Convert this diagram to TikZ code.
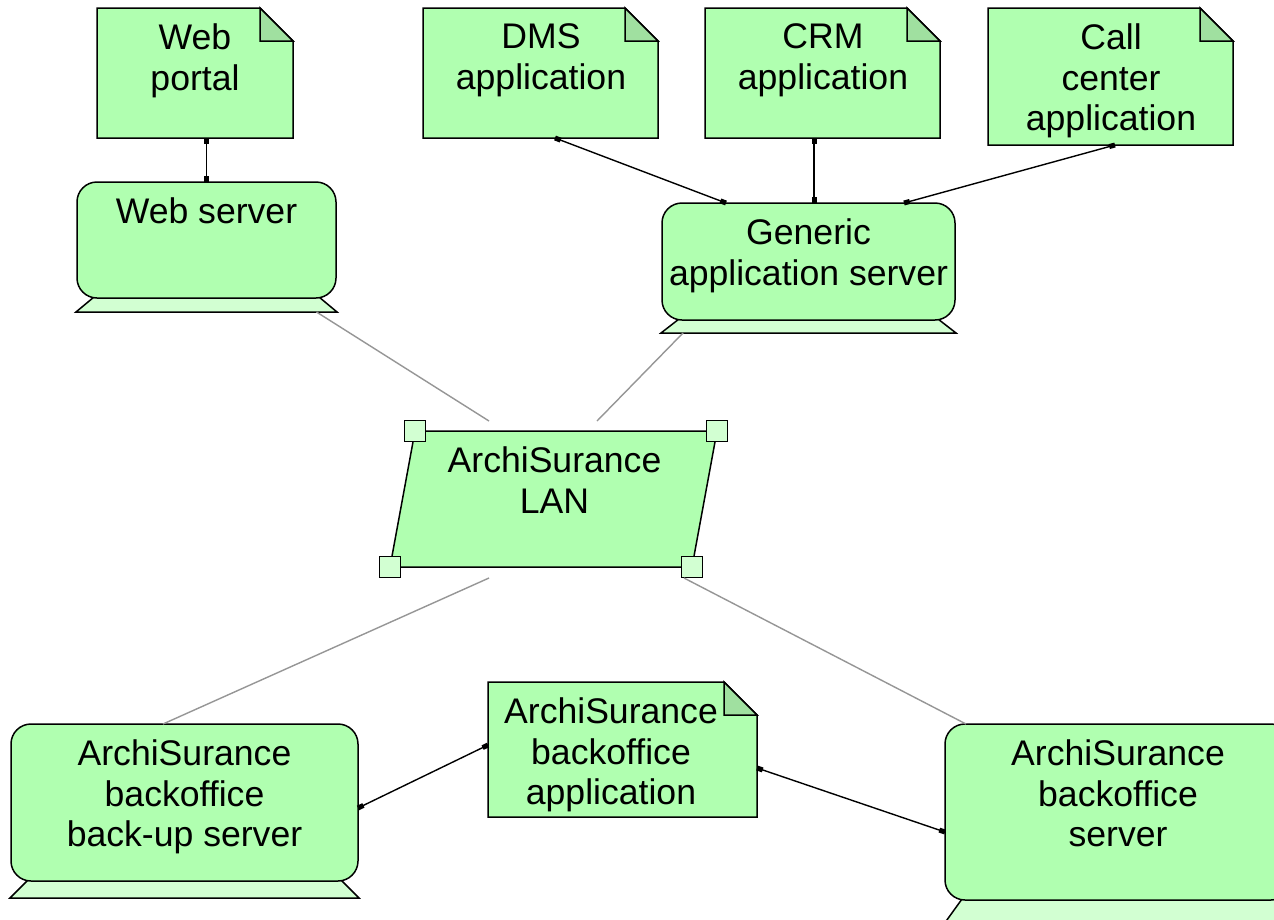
\documentclass[tikz,border=0pt]{standalone}
\usepackage{fontspec}
\setmainfont{Liberation Sans}
\usetikzlibrary{arrows.meta, calc, positioning}

\definecolor{archigreen}{RGB}{176,255,176}
\definecolor{archifold}{RGB}{160,224,160}
\definecolor{archibase}{RGB}{210,255,210}
\definecolor{netgray}{RGB}{150,150,150}

\begin{document}
\begin{tikzpicture}[x=1pt, y=-1pt, line width=1.5pt,
    holder/.style={shape=rectangle, inner sep=0pt, outer sep=0pt},
    device/.style={holder, draw, fill=archigreen, rounded corners=20pt},
    txt/.style={font=\fontsize{35.6}{40.5}\selectfont, align=center, inner sep=0pt, anchor=north},
    sq/.tip={Square[length=6pt, width=5pt]},
    assign/.style={sq-sq, line width=1.4pt},
    network/.style={netgray, line width=1.4pt}]
            \clip (0,0) rectangle (1274,919);
            \fill[white] (0,0) rectangle (1274,919);
            %Artifacts
            \foreach \nm/\xa/\ya/\xb/\yb/\tx/\txt in {portal/97/8/293/138/195/{Web\\portal},
                dms/423/8/658/138/541/{DMS\\application},
                crm/705/8/940/138/823/{CRM\\application},
                call/988/8/1233/145/1111/{Call\\center\\application},
                boapp/488/682/757/817/611/{ArchiSurance\\backoffice\\application}}
            {
                \node[holder, minimum width={\xb-\xa}, minimum height={\yb-\ya}] (\nm) at ({(\xa+\xb)/2}, {(\ya+\yb)/2}) {};
                \filldraw[fill=archigreen] (\xa,\yb) -- (\xa,\ya) -- (\xb-33,\ya) -- (\xb,\ya+33) -- (\xb,\yb) -- cycle;
                \filldraw[fill=archifold] (\xb-33,\ya) -- (\xb-33,\ya+33) -- (\xb,\ya+33) -- cycle;
                \node[txt] (\nm-t) at (\tx, \ya+15) {\txt};
            }
            %Devices
            \foreach \nm/\xa/\ya/\xb/\yb/\bh/\txt in {ws/77/182/336/298/14/{Web server},
                gen/662/203/955/320/13/{Generic\\application server},
                bak/11/724/358/881/17/{ArchiSurance\\backoffice\\back-up server},
                bos/945/724/1291/900/24/{ArchiSurance\\backoffice\\server}}
            {
                \filldraw[fill=archibase] (\xa+17,\yb-1) -- (\xb-17,\yb-1) -- (\xb+1,\yb+\bh) -- (\xa-1,\yb+\bh) -- cycle;
                \node[holder, minimum width={\xb-\xa+2}, minimum height=\bh] (\nm-b) at ({(\xa+\xb)/2}, {\yb+\bh/2}) {};
                \node[device, minimum width={\xb-\xa}, minimum height={\yb-\ya}] (\nm) at ({(\xa+\xb)/2}, {(\ya+\yb)/2}) {};
                \node[txt] (\nm-t) at ({(\xa+\xb)/2}, \ya+15) {\txt};
            }
            %Network
            \node[holder, minimum width=348, minimum height=157] (lan) at (554,499.5) {};
            \filldraw[fill=archigreen] (415,431) -- (717,431) -- (692,567) -- (390,567) -- cycle;
            \foreach \x/\y in {415/431, 717/431, 692/567, 390/567}
                \filldraw[fill=archibase, line width=1.3pt] (\x-10.5,\y-10.5) rectangle (\x+10.5,\y+10.5);
            \node[txt] (lan-t) at (554.5,446) {ArchiSurance\\LAN};
            \draw[network] ([xshift=110]ws-b.south) -- ([xshift=-65]lan.north);
            \draw[network] ([xshift=-125.5]gen-b.south) -- ([xshift=43]lan.north);
            \draw[network] ([xshift=-65]lan.south) -- ([xshift=-21.5]bak.north);
            \draw[network] ([xshift=130]lan.south) -- ([xshift=-152]bos.north);
            %Assignments
            \draw[assign] (portal.south -| ws.north) -- (ws.north);
            \draw[assign] ([xshift=14.5]dms.south) -- ([xshift=-82.5]gen.north);
            \draw[assign] ([xshift=-8.5]crm.south) -- ([xshift=-8.5]crm.south |- gen.north);
            \draw[assign] ([xshift=4.5]call.south) -- ([xshift=95.5]gen.north);
            \draw[assign] ([yshift=-5.5]bak.east) -- ([yshift=4.5]boapp.west);
            \draw[assign] ([yshift=-18.5]boapp.east) -- ([yshift=-20]bos.west);
        \end{tikzpicture}
\end{document}
